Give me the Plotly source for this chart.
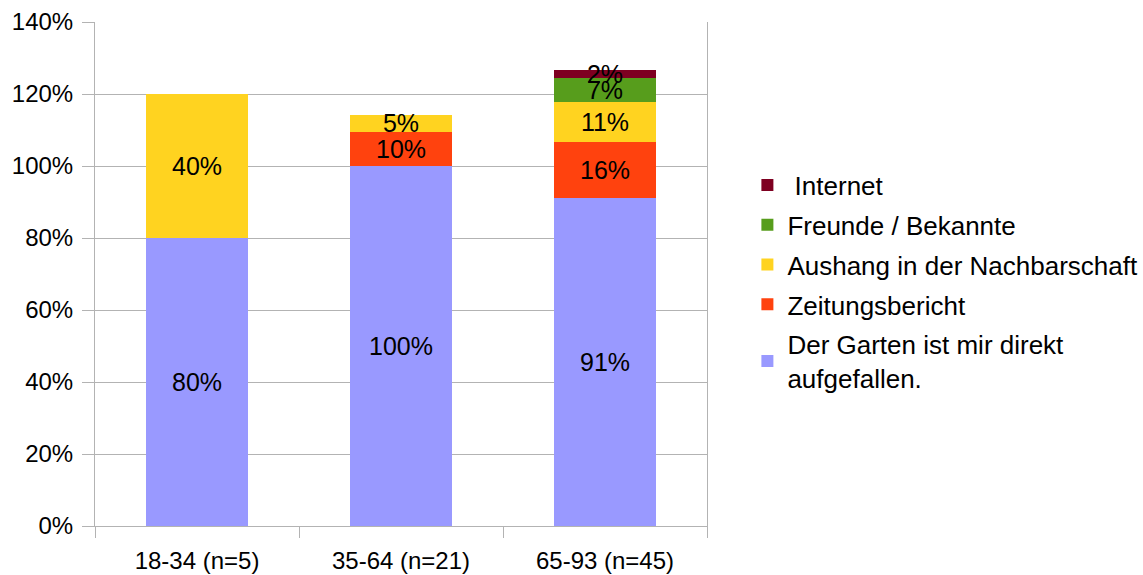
import plotly.graph_objects as go

categories = ["18-34 (n=5)", "35-64 (n=21)", "65-93 (n=45)"]
series_names = [
    "Der Garten ist mir direkt<br>aufgefallen.",
    "Zeitungsbericht",
    "Aushang in der Nachbarschaft",
    "Freunde / Bekannte",
    "\u00a0Internet",
]
garten = [0.80, 1.00, 0.911]
zeitung = [None, 0.0952, 0.156]
aushang = [0.40, 0.0476, 0.111]
freunde = [None, None, 0.067]
internet = [None, None, 0.022]
series_values = [garten, zeitung, aushang, freunde, internet]
colors = ["#9999ff", "#ff420e", "#ffd320", "#579d1c", "#7e0021"]
y_ticks = [0, 0.2, 0.4, 0.6, 0.8, 1.0, 1.2, 1.4]

FONT = "Liberation Sans, Arial, sans-serif"
GRID = "#b3b3b3"

fig = go.Figure()
n = len(series_names)
for i, (name, vals, col) in enumerate(zip(series_names, series_values, colors)):
    fig.add_trace(go.Bar(
        x=categories, y=vals, name=name,
        marker=dict(color=col, line=dict(width=0)),
        width=0.5,
        texttemplate="%{y:.0%}",
        textposition="inside",
        insidetextanchor="middle",
        textangle=0,
        textfont=dict(color="black", size=25, family=FONT),
        legendgroup=f"g{i}",
        legendrank=1000 + (n - i),
        hoverinfo="skip",
    ))

fig.update_layout(
    barmode="stack",
    width=1143, height=575,
    margin=dict(l=95, r=436, t=22, b=49, autoexpand=False),
    paper_bgcolor="white", plot_bgcolor="white",
    font=dict(family=FONT, size=24, color="black"),
    uniformtext=dict(minsize=25, mode="show"),
    showlegend=True,
    legend=dict(
        traceorder="grouped",
        x=1.066, xanchor="left", y=0.485, yanchor="middle",
        font=dict(size=26, family=FONT, color="black"),
        tracegroupgap=3,
        itemwidth=30,
        bgcolor="rgba(0,0,0,0)",
    ),
)
fig.update_yaxes(
    range=[0, 1.4], tickvals=y_ticks, tickformat=".0%",
    showgrid=True, gridcolor=GRID, gridwidth=1,
    showline=True, linecolor=GRID, linewidth=1, mirror=True,
    ticks="outside", ticklen=12, tickcolor=GRID,
    zeroline=False, tickfont=dict(size=24, family=FONT),
    ticklabelstandoff=4,
    automargin=False,
)
fig.update_xaxes(
    showgrid=False, showline=True, linecolor=GRID, linewidth=1,
    ticks="outside", ticklen=11, tickcolor=GRID, tickson="boundaries",
    tickfont=dict(size=24, family=FONT), ticklabelstandoff=13,
    automargin=False,
)

fig.write_html("out.html")
